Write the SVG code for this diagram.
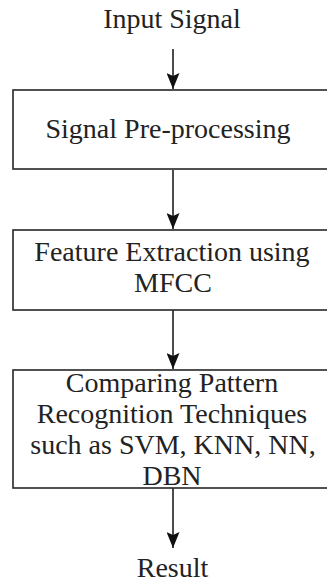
<svg xmlns="http://www.w3.org/2000/svg" width="327" height="582" viewBox="0 0 327 582">
  <style>
    .box { fill: #ffffff; stroke: #262626; stroke-width: 1.6; }
    .label { font-family: "Liberation Serif", "Times New Roman", serif; font-size: 28px; fill: #222222; text-anchor: middle; }
    .edge { stroke: #111111; stroke-width: 1.5; fill: none; marker-end: url(#head); }
  </style>
  <defs>
    <!-- filled arrowhead with a slight notch at the back -->
    <marker id="head" viewBox="0 0 16 13" refX="16" refY="6.5" markerWidth="16" markerHeight="13" markerUnits="userSpaceOnUse" orient="auto">
      <path d="M0,0 L16,6.5 L0,13 L3,6.5 Z" fill="#111111"/>
    </marker>
  </defs>
  <rect width="327" height="582" fill="#ffffff"/>

  <g id="connectors">
    <line class="edge" x1="173" y1="49" x2="173" y2="89"/>
    <line class="edge" x1="173" y1="170" x2="173" y2="229"/>
    <line class="edge" x1="173" y1="310" x2="173" y2="369"/>
    <line class="edge" x1="173" y1="488" x2="173" y2="548"/>
  </g>

  <g id="input-signal">
    <text class="label" x="172" y="28">Input Signal</text>
  </g>

  <!-- process boxes run past the right edge of the canvas -->
  <g id="pre-processing">
    <rect class="box" x="13" y="90" width="320" height="79"/>
    <text class="label" x="168" y="138">Signal Pre-processing</text>
  </g>

  <g id="feature-extraction">
    <rect class="box" x="13" y="230" width="320" height="80"/>
    <text class="label" x="172" y="261">Feature Extraction using</text>
    <text class="label" x="173" y="292">MFCC</text>
  </g>

  <g id="pattern-recognition">
    <rect class="box" x="13" y="370" width="320" height="118"/>
    <text class="label" x="172" y="392">Comparing Pattern</text>
    <text class="label" x="172" y="423">Recognition Techniques</text>
    <text class="label" x="173" y="454">such as SVM, KNN, NN,</text>
    <text class="label" x="172" y="485">DBN</text>
  </g>

  <g id="result">
    <text class="label" x="172.5" y="577">Result</text>
  </g>
</svg>
